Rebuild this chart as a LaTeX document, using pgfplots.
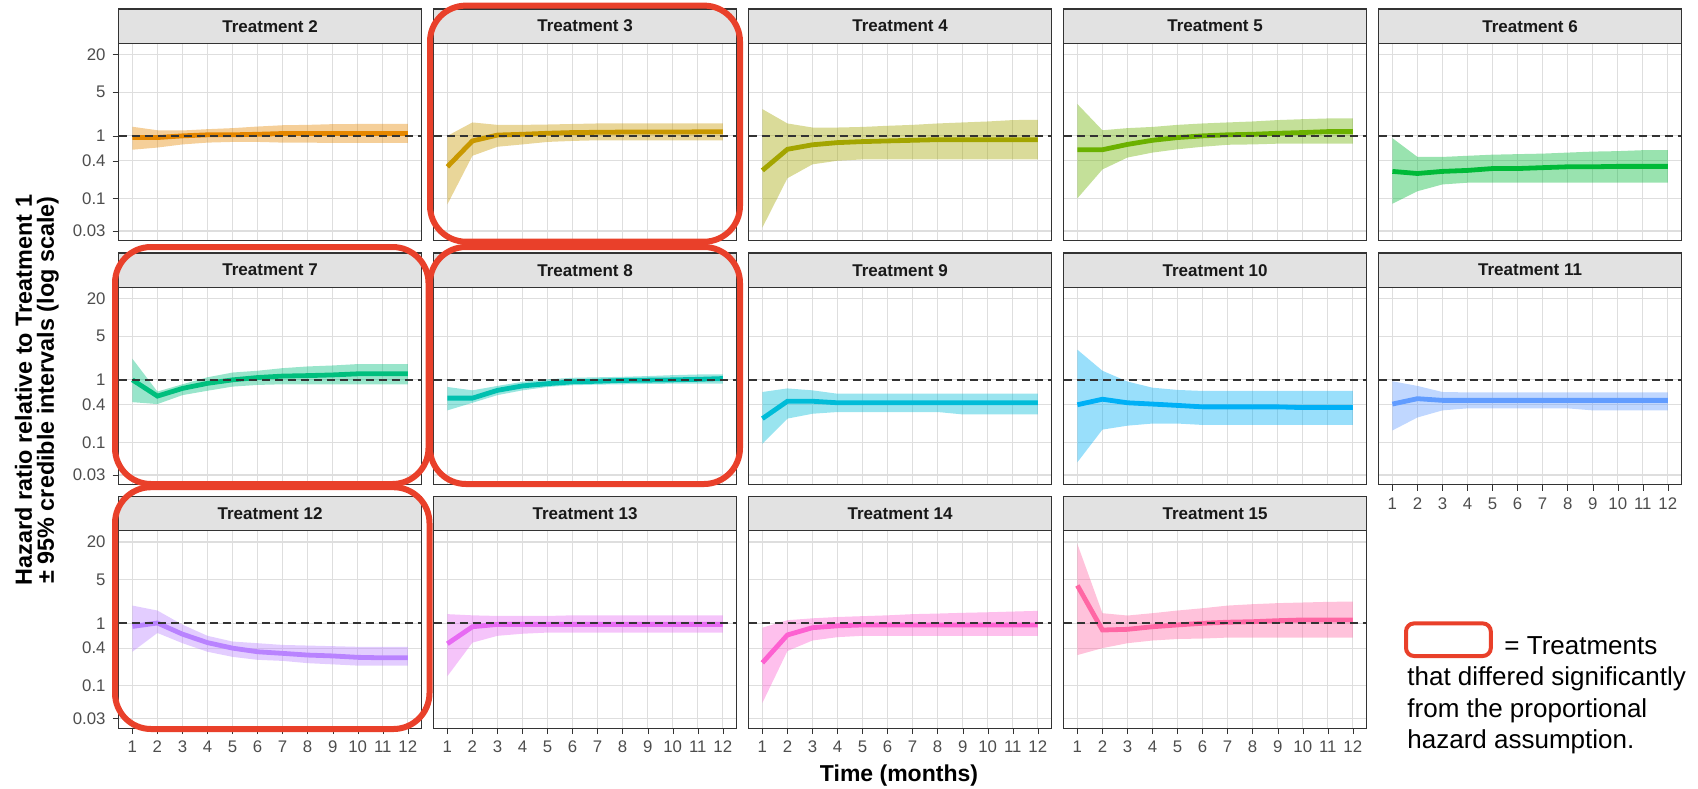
\documentclass[border=0pt]{standalone}
\usepackage{fontspec}
\setmainfont{Liberation Sans}
\usepackage{pgfplots}
\usepackage{pgfplotstable}
\pgfplotsset{compat=1.18}

\definecolor{c2}{HTML}{E58700}
\definecolor{c3}{HTML}{C99800}
\definecolor{c4}{HTML}{A3A500}
\definecolor{c5}{HTML}{6BB100}
\definecolor{c6}{HTML}{00BA38}
\definecolor{c7}{HTML}{00BF7D}
\definecolor{c8}{HTML}{00C0AF}
\definecolor{c9}{HTML}{00BCD8}
\definecolor{c10}{HTML}{00B0F6}
\definecolor{c11}{HTML}{619CFF}
\definecolor{c12}{HTML}{B983FF}
\definecolor{c13}{HTML}{E76BF3}
\definecolor{c14}{HTML}{FD61D1}
\definecolor{c15}{HTML}{FF67A4}
\definecolor{gridc}{HTML}{DEDEDE}
\definecolor{framec}{HTML}{333333}
\definecolor{tickc}{HTML}{4D4D4D}
\definecolor{stripc}{HTML}{E2E2E2}
\definecolor{redbox}{RGB}{233,64,42}

% hazard ratio line (t, v) and credible band polygon (upper 1..12, then lower 12..1)
\pgfplotstableread[row sep=\\]{t v\\1 0.94\\2 0.94\\3 1.00\\4 1.04\\5 1.04\\6 1.06\\7 1.09\\8 1.09\\9 1.09\\10 1.09\\11 1.09\\12 1.09\\}\lTwo
\pgfplotstableread[row sep=\\]{t v\\1 1.40\\2 1.23\\3 1.22\\4 1.28\\5 1.33\\6 1.41\\7 1.48\\8 1.50\\9 1.54\\10 1.55\\11 1.55\\12 1.55\\12 0.77\\11 0.77\\10 0.77\\9 0.77\\8 0.78\\7 0.78\\6 0.80\\5 0.80\\4 0.78\\3 0.73\\2 0.65\\1 0.60\\}\bTwo
\pgfplotstableread[row sep=\\]{t v\\1 0.32\\2 0.83\\3 1.03\\4 1.06\\5 1.10\\6 1.13\\7 1.14\\8 1.15\\9 1.15\\10 1.15\\11 1.16\\12 1.16\\}\lThree
\pgfplotstableread[row sep=\\]{t v\\1 1.00\\2 1.64\\3 1.50\\4 1.50\\5 1.52\\6 1.55\\7 1.58\\8 1.58\\9 1.58\\10 1.58\\11 1.58\\12 1.58\\12 0.85\\11 0.85\\10 0.85\\9 0.85\\8 0.85\\7 0.85\\6 0.83\\5 0.80\\4 0.73\\3 0.67\\2 0.48\\1 0.080\\}\bThree
\pgfplotstableread[row sep=\\]{t v\\1 0.28\\2 0.61\\3 0.72\\4 0.78\\5 0.81\\6 0.83\\7 0.85\\8 0.87\\9 0.87\\10 0.87\\11 0.87\\12 0.87\\}\lFour
\pgfplotstableread[row sep=\\]{t v\\1 2.68\\2 1.58\\3 1.36\\4 1.36\\5 1.39\\6 1.45\\7 1.50\\8 1.58\\9 1.64\\10 1.70\\11 1.79\\12 1.81\\12 0.42\\11 0.42\\10 0.42\\9 0.42\\8 0.42\\7 0.42\\6 0.42\\5 0.42\\4 0.40\\3 0.35\\2 0.21\\1 0.034\\}\bFour
\pgfplotstableread[row sep=\\]{t v\\1 0.60\\2 0.60\\3 0.73\\4 0.85\\5 0.94\\6 1.00\\7 1.04\\8 1.06\\9 1.10\\10 1.13\\11 1.17\\12 1.17\\}\lFive
\pgfplotstableread[row sep=\\]{t v\\1 3.23\\2 1.23\\3 1.33\\4 1.39\\5 1.50\\6 1.58\\7 1.64\\8 1.70\\9 1.79\\10 1.85\\11 1.90\\12 1.90\\12 0.75\\11 0.75\\10 0.75\\9 0.75\\8 0.73\\7 0.72\\6 0.67\\5 0.61\\4 0.54\\3 0.45\\2 0.29\\1 0.10\\}\bFive
\pgfplotstableread[row sep=\\]{t v\\1 0.27\\2 0.25\\3 0.27\\4 0.28\\5 0.30\\6 0.30\\7 0.31\\8 0.32\\9 0.32\\10 0.325\\11 0.325\\12 0.325\\}\lSix
\pgfplotstableread[row sep=\\]{t v\\1 0.92\\2 0.46\\3 0.46\\4 0.48\\5 0.50\\6 0.51\\7 0.52\\8 0.54\\9 0.56\\10 0.57\\11 0.59\\12 0.59\\12 0.178\\11 0.178\\10 0.178\\9 0.178\\8 0.178\\7 0.178\\6 0.178\\5 0.178\\4 0.178\\3 0.167\\2 0.13\\1 0.082\\}\bSix
\pgfplotstableread[row sep=\\]{t v\\1 1.00\\2 0.55\\3 0.73\\4 0.88\\5 1.00\\6 1.09\\7 1.15\\8 1.17\\9 1.20\\10 1.25\\11 1.25\\12 1.25\\}\lSeven
\pgfplotstableread[row sep=\\]{t v\\1 2.18\\2 0.65\\3 0.85\\4 1.10\\5 1.31\\6 1.40\\7 1.54\\8 1.64\\9 1.70\\10 1.79\\11 1.79\\12 1.79\\12 0.85\\11 0.85\\10 0.85\\9 0.85\\8 0.85\\7 0.85\\6 0.83\\5 0.78\\4 0.67\\3 0.57\\2 0.41\\1 0.44\\}\bSeven
\pgfplotstableread[row sep=\\]{t v\\1 0.51\\2 0.51\\3 0.68\\4 0.80\\5 0.87\\6 0.93\\7 0.95\\8 0.98\\9 0.99\\10 1.00\\11 1.02\\12 1.05\\}\lEight
\pgfplotstableread[row sep=\\]{t v\\1 0.77\\2 0.68\\3 0.80\\4 0.93\\5 1.02\\6 1.08\\7 1.10\\8 1.12\\9 1.15\\10 1.19\\11 1.22\\12 1.22\\12 0.87\\11 0.87\\10 0.87\\9 0.86\\8 0.85\\7 0.84\\6 0.82\\5 0.77\\4 0.68\\3 0.57\\2 0.43\\1 0.325\\}\bEight
\pgfplotstableread[row sep=\\]{t v\\1 0.24\\2 0.455\\3 0.455\\4 0.43\\5 0.43\\6 0.43\\7 0.43\\8 0.43\\9 0.43\\10 0.43\\11 0.43\\12 0.43\\}\lNine
\pgfplotstableread[row sep=\\]{t v\\1 0.64\\2 0.73\\3 0.68\\4 0.60\\5 0.60\\6 0.60\\7 0.60\\8 0.60\\9 0.60\\10 0.60\\11 0.60\\12 0.60\\12 0.28\\11 0.28\\10 0.28\\9 0.28\\8 0.306\\7 0.306\\6 0.306\\5 0.306\\4 0.306\\3 0.287\\2 0.24\\1 0.095\\}\bNine
\pgfplotstableread[row sep=\\]{t v\\1 0.40\\2 0.49\\3 0.43\\4 0.41\\5 0.39\\6 0.37\\7 0.37\\8 0.37\\9 0.37\\10 0.36\\11 0.36\\12 0.36\\}\lTen
\pgfplotstableread[row sep=\\]{t v\\1 3.04\\2 1.40\\3 0.94\\4 0.75\\5 0.69\\6 0.665\\7 0.665\\8 0.665\\9 0.665\\10 0.665\\11 0.665\\12 0.665\\12 0.19\\11 0.19\\10 0.19\\9 0.19\\8 0.19\\7 0.19\\6 0.19\\5 0.20\\4 0.20\\3 0.185\\2 0.16\\1 0.048\\}\bTen
\pgfplotstableread[row sep=\\]{t v\\1 0.41\\2 0.50\\3 0.47\\4 0.47\\5 0.47\\6 0.47\\7 0.47\\8 0.47\\9 0.47\\10 0.47\\11 0.47\\12 0.47\\}\lEleven
\pgfplotstableread[row sep=\\]{t v\\1 0.95\\2 0.80\\3 0.64\\4 0.63\\5 0.63\\6 0.63\\7 0.63\\8 0.63\\9 0.63\\10 0.63\\11 0.63\\12 0.63\\12 0.325\\11 0.325\\10 0.325\\9 0.325\\8 0.35\\7 0.35\\6 0.35\\5 0.35\\4 0.35\\3 0.325\\2 0.25\\1 0.155\\}\bEleven
\pgfplotstableread[row sep=\\]{t v\\1 0.89\\2 1.01\\3 0.67\\4 0.49\\5 0.40\\6 0.35\\7 0.33\\8 0.31\\9 0.30\\10 0.285\\11 0.28\\12 0.28\\}\lTwelve
\pgfplotstableread[row sep=\\]{t v\\1 1.92\\2 1.60\\3 0.95\\4 0.63\\5 0.51\\6 0.48\\7 0.45\\8 0.44\\9 0.43\\10 0.42\\11 0.42\\12 0.42\\12 0.21\\11 0.21\\10 0.21\\9 0.22\\8 0.23\\7 0.25\\6 0.26\\5 0.29\\4 0.35\\3 0.48\\2 0.70\\1 0.35\\}\bTwelve
\pgfplotstableread[row sep=\\]{t v\\1 0.47\\2 0.88\\3 0.96\\4 0.96\\5 0.96\\6 0.96\\7 0.96\\8 0.96\\9 0.96\\10 0.96\\11 0.96\\12 0.96\\}\lThirteen
\pgfplotstableread[row sep=\\]{t v\\1 1.40\\2 1.34\\3 1.31\\4 1.31\\5 1.31\\6 1.34\\7 1.34\\8 1.34\\9 1.34\\10 1.34\\11 1.34\\12 1.34\\12 0.71\\11 0.71\\10 0.71\\9 0.71\\8 0.71\\7 0.71\\6 0.71\\5 0.71\\4 0.68\\3 0.63\\2 0.49\\1 0.142\\}\bThirteen
\pgfplotstableread[row sep=\\]{t v\\1 0.233\\2 0.65\\3 0.85\\4 0.91\\5 0.94\\6 0.94\\7 0.94\\8 0.94\\9 0.94\\10 0.94\\11 0.94\\12 0.94\\}\lFourteen
\pgfplotstableread[row sep=\\]{t v\\1 0.85\\2 1.12\\3 1.20\\4 1.26\\5 1.30\\6 1.34\\7 1.40\\8 1.43\\9 1.47\\10 1.50\\11 1.54\\12 1.58\\12 0.63\\11 0.63\\10 0.63\\9 0.63\\8 0.63\\7 0.63\\6 0.63\\5 0.63\\4 0.60\\3 0.53\\2 0.36\\1 0.053\\}\bFourteen
\pgfplotstableread[row sep=\\]{t v\\1 4.03\\2 0.78\\3 0.80\\4 0.88\\5 0.94\\6 1.00\\7 1.04\\8 1.06\\9 1.10\\10 1.13\\11 1.13\\12 1.13\\}\lFifteen
\pgfplotstableread[row sep=\\]{t v\\1 18.6\\2 1.45\\3 1.33\\4 1.45\\5 1.60\\6 1.74\\7 1.92\\8 2.02\\9 2.10\\10 2.15\\11 2.20\\12 2.23\\12 0.59\\11 0.59\\10 0.59\\9 0.59\\8 0.59\\7 0.59\\6 0.57\\5 0.56\\4 0.53\\3 0.48\\2 0.40\\1 0.31\\}\bFifteen

\pgfplotsset{
  every axis/.append style={
    width=151.5pt, height=98.7pt, scale only axis,
    xmin=0.45, xmax=12.55, ymin=0.021, ymax=30.3,
    xtick={1,2,3,4,5,6,7,8,9,10,11,12},
    ytick={0.03,0.1,0.4,1,5,20},
    grid=major,
    major grid style={draw=gridc, line width=0.55pt},
    axis line style={draw=framec, line width=0.6pt},
    tick align=outside, major tick length=3pt,
    xtick pos=left, ytick pos=left,
    tick label style={font=\fontsize{8.4}{10}\selectfont, text=tickc},
    anchor=north west,
  },
}

\begin{document}
\begin{tikzpicture}
\path (0,0) rectangle (849pt,-394pt);

% ---------- Row 1
\begin{semilogyaxis}[name=pa, at={(59.3pt,-21.65pt)}, xticklabels=\empty, xtick style={draw=none}, yticklabels={0.03,0.1,0.4,1,5,20}, ytick style={draw=framec}]
\addplot[fill=c2, fill opacity=0.4, draw=none] table[x=t, y=v] {\bTwo};
\addplot[c2, line width=2.4pt] table[x=t, y=v] {\lTwo};
\addplot[framec, line width=1.2pt, dash pattern=on 4.2pt off 2.3pt] coordinates {(0.45,1) (12.55,1)};
\end{semilogyaxis}

\begin{semilogyaxis}[name=pb, at={(216.8pt,-21.65pt)}, xticklabels=\empty, yticklabels=\empty, xtick style={draw=none}, ytick style={draw=none}]
\addplot[fill=c3, fill opacity=0.4, draw=none] table[x=t, y=v] {\bThree};
\addplot[c3, line width=2.4pt] table[x=t, y=v] {\lThree};
\addplot[framec, line width=1.2pt, dash pattern=on 4.2pt off 2.3pt] coordinates {(0.45,1) (12.55,1)};
\end{semilogyaxis}

\begin{semilogyaxis}[name=pc, at={(374.3pt,-21.65pt)}, xticklabels=\empty, yticklabels=\empty, xtick style={draw=none}, ytick style={draw=none}]
\addplot[fill=c4, fill opacity=0.4, draw=none] table[x=t, y=v] {\bFour};
\addplot[c4, line width=2.4pt] table[x=t, y=v] {\lFour};
\addplot[framec, line width=1.2pt, dash pattern=on 4.2pt off 2.3pt] coordinates {(0.45,1) (12.55,1)};
\end{semilogyaxis}

\begin{semilogyaxis}[name=pd, at={(531.8pt,-21.65pt)}, xticklabels=\empty, yticklabels=\empty, xtick style={draw=none}, ytick style={draw=none}]
\addplot[fill=c5, fill opacity=0.4, draw=none] table[x=t, y=v] {\bFive};
\addplot[c5, line width=2.4pt] table[x=t, y=v] {\lFive};
\addplot[framec, line width=1.2pt, dash pattern=on 4.2pt off 2.3pt] coordinates {(0.45,1) (12.55,1)};
\end{semilogyaxis}

\begin{semilogyaxis}[name=pe, at={(689.3pt,-21.65pt)}, xticklabels=\empty, yticklabels=\empty, xtick style={draw=none}, ytick style={draw=none}]
\addplot[fill=c6, fill opacity=0.4, draw=none] table[x=t, y=v] {\bSix};
\addplot[c6, line width=2.4pt] table[x=t, y=v] {\lSix};
\addplot[framec, line width=1.2pt, dash pattern=on 4.2pt off 2.3pt] coordinates {(0.45,1) (12.55,1)};
\end{semilogyaxis}

% ---------- Row 2
\begin{semilogyaxis}[name=pf, at={(59.3pt,-143.65pt)}, xticklabels=\empty, xtick style={draw=none}, yticklabels={0.03,0.1,0.4,1,5,20}, ytick style={draw=framec}]
\addplot[fill=c7, fill opacity=0.4, draw=none] table[x=t, y=v] {\bSeven};
\addplot[c7, line width=2.4pt] table[x=t, y=v] {\lSeven};
\addplot[framec, line width=1.2pt, dash pattern=on 4.2pt off 2.3pt] coordinates {(0.45,1) (12.55,1)};
\end{semilogyaxis}

\begin{semilogyaxis}[name=pg, at={(216.8pt,-143.65pt)}, xticklabels=\empty, yticklabels=\empty, xtick style={draw=none}, ytick style={draw=none}]
\addplot[fill=c8, fill opacity=0.4, draw=none] table[x=t, y=v] {\bEight};
\addplot[c8, line width=2.4pt] table[x=t, y=v] {\lEight};
\addplot[framec, line width=1.2pt, dash pattern=on 4.2pt off 2.3pt] coordinates {(0.45,1) (12.55,1)};
\end{semilogyaxis}

\begin{semilogyaxis}[name=ph, at={(374.3pt,-143.65pt)}, xticklabels=\empty, yticklabels=\empty, xtick style={draw=none}, ytick style={draw=none}]
\addplot[fill=c9, fill opacity=0.4, draw=none] table[x=t, y=v] {\bNine};
\addplot[c9, line width=2.4pt] table[x=t, y=v] {\lNine};
\addplot[framec, line width=1.2pt, dash pattern=on 4.2pt off 2.3pt] coordinates {(0.45,1) (12.55,1)};
\end{semilogyaxis}

\begin{semilogyaxis}[name=pi, at={(531.8pt,-143.65pt)}, xticklabels=\empty, yticklabels=\empty, xtick style={draw=none}, ytick style={draw=none}]
\addplot[fill=c10, fill opacity=0.4, draw=none] table[x=t, y=v] {\bTen};
\addplot[c10, line width=2.4pt] table[x=t, y=v] {\lTen};
\addplot[framec, line width=1.2pt, dash pattern=on 4.2pt off 2.3pt] coordinates {(0.45,1) (12.55,1)};
\end{semilogyaxis}

\begin{semilogyaxis}[name=pj, at={(689.3pt,-143.65pt)}, xticklabels={1,2,3,4,5,6,7,8,9,10,11,12}, yticklabels=\empty, xtick style={draw=framec}, ytick style={draw=none}]
\addplot[fill=c11, fill opacity=0.4, draw=none] table[x=t, y=v] {\bEleven};
\addplot[c11, line width=2.4pt] table[x=t, y=v] {\lEleven};
\addplot[framec, line width=1.2pt, dash pattern=on 4.2pt off 2.3pt] coordinates {(0.45,1) (12.55,1)};
\end{semilogyaxis}

% ---------- Row 3
\begin{semilogyaxis}[name=pk, at={(59.3pt,-265.35pt)}, xticklabels={1,2,3,4,5,6,7,8,9,10,11,12}, yticklabels={0.03,0.1,0.4,1,5,20}, xtick style={draw=framec}, ytick style={draw=framec}]
\addplot[fill=c12, fill opacity=0.4, draw=none] table[x=t, y=v] {\bTwelve};
\addplot[c12, line width=2.4pt] table[x=t, y=v] {\lTwelve};
\addplot[framec, line width=1.2pt, dash pattern=on 4.2pt off 2.3pt] coordinates {(0.45,1) (12.55,1)};
\end{semilogyaxis}

\begin{semilogyaxis}[name=pl, at={(216.8pt,-265.35pt)}, xticklabels={1,2,3,4,5,6,7,8,9,10,11,12}, yticklabels=\empty, xtick style={draw=framec}, ytick style={draw=none}]
\addplot[fill=c13, fill opacity=0.4, draw=none] table[x=t, y=v] {\bThirteen};
\addplot[c13, line width=2.4pt] table[x=t, y=v] {\lThirteen};
\addplot[framec, line width=1.2pt, dash pattern=on 4.2pt off 2.3pt] coordinates {(0.45,1) (12.55,1)};
\end{semilogyaxis}

\begin{semilogyaxis}[name=pm, at={(374.3pt,-265.35pt)}, xticklabels={1,2,3,4,5,6,7,8,9,10,11,12}, yticklabels=\empty, xtick style={draw=framec}, ytick style={draw=none}]
\addplot[fill=c14, fill opacity=0.4, draw=none] table[x=t, y=v] {\bFourteen};
\addplot[c14, line width=2.4pt] table[x=t, y=v] {\lFourteen};
\addplot[framec, line width=1.2pt, dash pattern=on 4.2pt off 2.3pt] coordinates {(0.45,1) (12.55,1)};
\end{semilogyaxis}

\begin{semilogyaxis}[name=pn, at={(531.8pt,-265.35pt)}, xticklabels={1,2,3,4,5,6,7,8,9,10,11,12}, yticklabels=\empty, xtick style={draw=framec}, ytick style={draw=none}]
\addplot[fill=c15, fill opacity=0.4, draw=none] table[x=t, y=v] {\bFifteen};
\addplot[c15, line width=2.4pt] table[x=t, y=v] {\lFifteen};
\addplot[framec, line width=1.2pt, dash pattern=on 4.2pt off 2.3pt] coordinates {(0.45,1) (12.55,1)};
\end{semilogyaxis}

% ---------- strips
\foreach \n/\lab in {pa/Treatment 2, pb/Treatment 3, pc/Treatment 4, pd/Treatment 5, pe/Treatment 6, pf/Treatment 7, pg/Treatment 8, ph/Treatment 9, pi/Treatment 10, pj/Treatment 11, pk/Treatment 12, pl/Treatment 13, pm/Treatment 14, pn/Treatment 15}{
  \draw[fill=stripc, draw=framec, line width=0.6pt] (\n.north west) rectangle ([yshift=17.15pt]\n.north east);
  \node[font=\bfseries\fontsize{8.5}{10}\selectfont, text=black!90] at ([yshift=8.575pt]\n.north) {\lab};
}

% axis titles
\node[font=\bfseries\fontsize{11.5}{13}\selectfont, anchor=base, inner sep=0pt] at (449.5pt,-390.6pt) {Time (months)};
\node[font=\bfseries\fontsize{11.7}{11}\selectfont, rotate=90, align=center, inner sep=0pt] at (18.5pt,-195pt) {Hazard ratio relative to Treatment 1\\ ± 95\% credible intervals (log scale)};

% highlight boxes
\begin{scope}[draw=redbox, line width=3pt, rounded corners=18pt]
\draw (215pt,-2.8pt) rectangle (370pt,-120.85pt);
\draw (57.5pt,-123.5pt) rectangle (214.25pt,-242pt);
\draw (215pt,-123.5pt) rectangle (370pt,-242pt);
\draw (57.5pt,-243.6pt) rectangle (214.75pt,-364.5pt);
\end{scope}

% legend
\draw[redbox, line width=2pt, rounded corners=4pt, fill=white] (703pt,-311.7pt) rectangle (745.4pt,-328pt);
\node[anchor=base west, inner sep=0pt, font=\fontsize{13}{15}\selectfont] at (752pt,-327pt) {= Treatments};
\node[anchor=base west, inner sep=0pt, font=\fontsize{13}{15}\selectfont] at (703.5pt,-342.5pt) {that differed significantly};
\node[anchor=base west, inner sep=0pt, font=\fontsize{13}{15}\selectfont] at (703.5pt,-358.5pt) {from the proportional};
\node[anchor=base west, inner sep=0pt, font=\fontsize{13}{15}\selectfont] at (703.5pt,-374pt) {hazard assumption.};
\end{tikzpicture}
\end{document}
